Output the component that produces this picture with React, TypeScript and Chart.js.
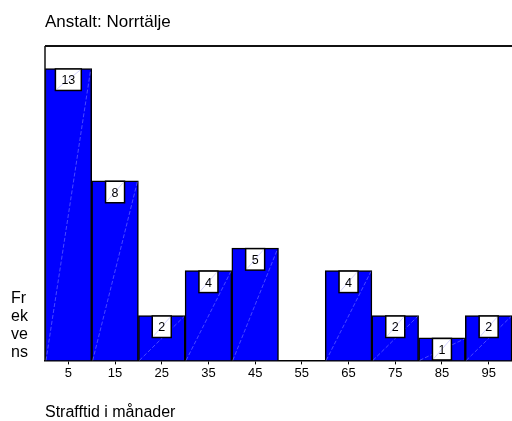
import React, { useEffect, useRef } from "react";
import { Chart, registerables } from "chart.js";

Chart.register(...registerables);

const categories = ["5", "15", "25", "35", "45", "55", "65", "75", "85", "95"];
const frequencies = [13, 8, 2, 4, 5, 0, 4, 2, 1, 2];
const chartTitle = "Anstalt: Norrtälje";
const yLabelLines = ["Fr", "ek", "ve", "ns"];
const xTitle = "Strafftid i månader";
const yMax = 14;

const FONT = "'Liberation Sans', Arial, sans-serif";

const decorPlugin = {
  id: "decor",
  afterDatasetsDraw(chart: any) {
    const { ctx, chartArea } = chart;
    const meta = chart.getDatasetMeta(0);
    ctx.save();
    // frame lines: top and left
    ctx.strokeStyle = "#111";
    ctx.lineWidth = 2;
    ctx.beginPath();
    ctx.moveTo(chartArea.left, chartArea.top);
    ctx.lineTo(chartArea.right + 2, chartArea.top);
    ctx.stroke();
    ctx.lineWidth = 1.5;
    ctx.beginPath();
    ctx.moveTo(chartArea.left, chartArea.top);
    ctx.lineTo(chartArea.left, chartArea.bottom);
    ctx.stroke();

    meta.data.forEach((bar: any, i: number) => {
      const v = frequencies[i];
      if (!v) return;
      const { x, y, base, width } = bar.getProps(["x", "y", "base", "width"], true);
      const l = x - width / 2;
      const r = x + width / 2;
      // bar diagonal artifact
      ctx.save();
      ctx.strokeStyle = "rgba(140,140,255,0.75)";
      ctx.lineWidth = 0.7;
      ctx.setLineDash([4, 2]);
      ctx.beginPath();
      ctx.moveTo(l + 1, base);
      ctx.lineTo(r - 1, y + 1);
      ctx.stroke();
      ctx.restore();

      // value box
      ctx.font = `12.5px ${FONT}`;
      const text = String(v);
      const tw = ctx.measureText(text).width;
      const bw = Math.max(19, tw + 12);
      const bh = 21.5;
      const bx = x - bw / 2;
      const by = y + 0.5;
      ctx.fillStyle = "#fff";
      ctx.fillRect(bx, by, bw, bh);
      ctx.strokeStyle = "#000";
      ctx.lineWidth = 1.5;
      ctx.strokeRect(bx, by, bw, bh);
      ctx.save();
      ctx.strokeStyle = "rgba(150,150,255,0.6)";
      ctx.lineWidth = 0.7;
      ctx.beginPath();
      ctx.moveTo(bx + 1, by + bh - 1);
      ctx.lineTo(bx + bw - 1, by + 1);
      ctx.stroke();
      ctx.restore();
      ctx.fillStyle = "#000";
      ctx.textAlign = "center";
      ctx.textBaseline = "alphabetic";
      ctx.fillText(text, x, by + 15.5);
    });

    // texts
    ctx.fillStyle = "#000";
    ctx.textAlign = "left";
    ctx.textBaseline = "alphabetic";
    ctx.font = `17px ${FONT}`;
    ctx.fillText(chartTitle, 45, 27);
    ctx.font = `16px ${FONT}`;
    yLabelLines.forEach((t, i) => ctx.fillText(t, 11, 303 + i * 18));
    ctx.fillText(xTitle, 45, 417);
    ctx.restore();
  },
};

export default function App() {
  const ref = useRef<HTMLCanvasElement>(null);
  useEffect(() => {
    if (!ref.current) return;
    const chart = new Chart(ref.current, {
      type: "bar",
      data: {
        labels: categories,
        datasets: [
          {
            data: frequencies,
            backgroundColor: "#0000ff",
            borderColor: "#000",
            borderWidth: 1.5,
            barPercentage: 1,
            categoryPercentage: 1,
          },
        ],
      },
      options: {
        animation: false,
        responsive: false,
        devicePixelRatio: 1,
        layout: { padding: { left: 45, top: 46, right: 0, bottom: 39 } },
        plugins: { legend: { display: false }, tooltip: { enabled: false }, title: { display: false } },
        scales: {
          y: { display: false, min: 0, max: yMax },
          x: {
            grid: { display: true, drawOnChartArea: false, drawTicks: true, tickLength: 4, color: "#000", offset: false },
            border: { display: true, color: "#000", width: 1.5 },
            ticks: { color: "#000", font: { family: FONT, size: 13 }, padding: 1, maxRotation: 0, autoSkip: false },
          },
        },
      },
      plugins: [decorPlugin],
    });
    return () => chart.destroy();
  }, []);
  return (
    <div style={{ position: "fixed", left: 0, top: 0, width: 512, height: 421, background: "#fff" }}>
      <canvas ref={ref} width={512} height={421} />
    </div>
  );
}
